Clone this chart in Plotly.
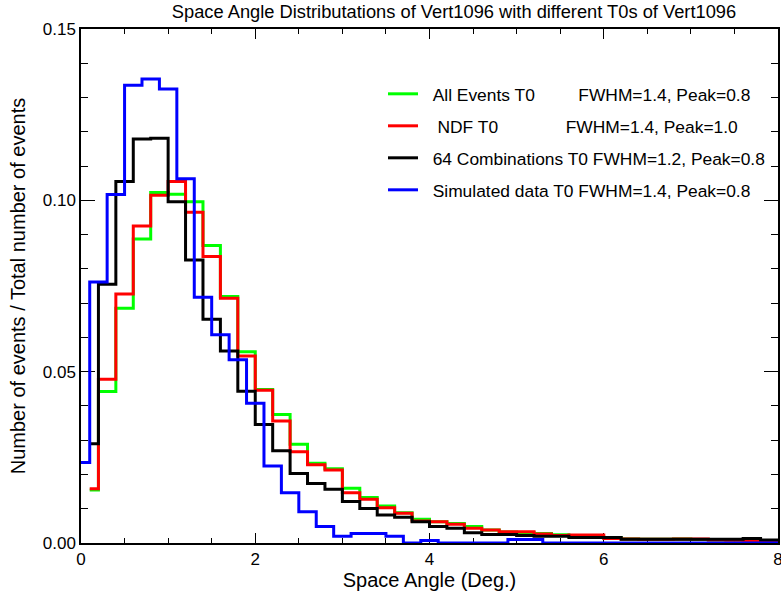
import plotly.graph_objects as go

# Bin centres
x_rgb = [round(0.1 + 0.2 * i, 1) for i in range(41)]   # All events / NDF / 64 comb.
x_blue = [round(0.0 + 0.2 * i, 1) for i in range(41)]  # Simulated

all_events = [0.0155, 0.0442, 0.0685, 0.0887, 0.1023, 0.1018, 0.0996, 0.0868, 0.0719, 0.0558,
              0.0448, 0.0375, 0.0288, 0.0233, 0.0217, 0.0160, 0.0133, 0.0108, 0.0088, 0.0069,
              0.0062, 0.0057, 0.0048, 0.0038, 0.0032, 0.0030, 0.0028, 0.0024, 0.0020, 0.0018,
              0.0016, 0.0012, 0.0011, 0.0011, 0.0012, 0.0010, 0.0009, 0.0008, 0.0007, 0.0006,
              0.0006]
ndf = [0.0158, 0.0478, 0.0727, 0.0925, 0.1015, 0.1055, 0.0965, 0.0836, 0.0714, 0.0546,
       0.0446, 0.0356, 0.0266, 0.0228, 0.0213, 0.0147, 0.0128, 0.0103, 0.0087, 0.0064,
       0.0062, 0.0055, 0.0043, 0.0038, 0.0033, 0.0033, 0.0026, 0.0022, 0.0023, 0.0023,
       0.0013, 0.0012, 0.0011, 0.0011, 0.0012, 0.0012, 0.0009, 0.0008, 0.0007, 0.0007,
       0.0007]
comb64 = [0.0290, 0.0755, 0.1055, 0.1179, 0.1181, 0.0996, 0.0826, 0.0653, 0.0560, 0.0443,
          0.0346, 0.0269, 0.0203, 0.0174, 0.0157, 0.0121, 0.0101, 0.0082, 0.0075, 0.0062,
          0.0048, 0.0043, 0.0030, 0.0025, 0.0025, 0.0022, 0.0020, 0.0020, 0.0016, 0.0016,
          0.0016, 0.0011, 0.0011, 0.0011, 0.0011, 0.0011, 0.0011, 0.0011, 0.0013, 0.0009,
          0.0009]
simulated = [0.0235, 0.0762, 0.1017, 0.1336, 0.1354, 0.1325, 0.1063, 0.0717, 0.0608, 0.0535,
             0.0408, 0.0225, 0.0147, 0.0091, 0.0048, 0.0020, 0.0028, 0.0028, 0.0020, 0.0000,
             0.0007, 0.0000, 0.0000, 0.0000, 0.0000, 0.0010, 0.0010, 0.0000, 0.0000, 0.0000,
             0.0000, 0.0000, 0.0000, 0.0000, 0.0000, 0.0000, 0.0000, 0.0000, 0.0000, 0.0000,
             0.0000]

x_ticks = [0, 2, 4, 6, 8]
y_ticks = [0.0, 0.05, 0.10, 0.15]

NB = "\u00a0"
labels = [
    NB * 2 + "All Events T0" + NB * 9 + "FWHM=1.4, Peak=0.8",
    NB * 3 + "NDF T0" + NB * 14 + "FWHM=1.4, Peak=1.0",
    NB * 2 + "64 Combinations T0 FWHM=1.2, Peak=0.8",
    NB * 2 + "Simulated data T0 FWHM=1.4, Peak=0.8",
]
colors = ["#00ff00", "#ff0000", "#000000", "#0000ff"]
series = [(x_rgb, all_events), (x_rgb, ndf), (x_rgb, comb64), (x_blue, simulated)]
legend_ids = ["legend", "legend2", "legend3", "legend4"]
legend_y_px = [94, 126, 158, 190]

FONT = "Liberation Sans, Arial, sans-serif"
W, H = 781, 594
L, R, T, B = 81, 3, 29, 51
pw, ph = W - L - R, H - T - B

fig = go.Figure()
for (xs, ys), lab, col, lid in zip(series, labels, colors, legend_ids):
    fig.add_trace(go.Scatter(x=xs, y=ys, mode="lines", line=dict(color=col, width=3, shape="hvh"),
                             name=lab, legend=lid, showlegend=True))

legend_common = dict(font=dict(family=FONT, size=17.4, color="black"), bgcolor="rgba(0,0,0,0)",
                     borderwidth=0, xanchor="left", yanchor="middle", itemclick=False)
lay = {}
for lid, ypx in zip(legend_ids, legend_y_px):
    lay[lid] = dict(legend_common, x=(383 - L) / pw, y=(H - B - ypx) / ph)

axis_common = dict(showline=True, linecolor="black", linewidth=1.5, mirror="ticks", ticks="inside",
                   showgrid=False, zeroline=False, tickcolor="black", tickwidth=1,
                   layer="below traces", ticklabeloverflow="allow",
                   tickfont=dict(family=FONT, size=17, color="black"))

fig.update_layout(
    width=W, height=H, margin=dict(l=L, r=R, t=T, b=B, autoexpand=False),
    paper_bgcolor="white", plot_bgcolor="white",
    title=dict(text="Space Angle Distributations of Vert1096 with different T0s of Vert1096",
               font=dict(family=FONT, size=18.3, color="black"), x=(454 - L) / pw, xref="paper",
               xanchor="center", y=1 - 12 / H, yref="container", yanchor="middle"),
    xaxis=dict(axis_common, range=[0, 8], tickmode="array", tickvals=x_ticks,
               ticktext=[str(v) for v in x_ticks], ticklen=10,
               minor=dict(dtick=0.5, ticklen=5, ticks="inside", tickcolor="black", showgrid=False),
               title=dict(text="Space Angle (Deg.)", font=dict(family=FONT, size=20, color="black"),
                          standoff=0)),
    yaxis=dict(axis_common, range=[0, 0.15], tickmode="array", tickvals=y_ticks,
               ticktext=["%.2f" % v for v in y_ticks], ticklen=14,
               minor=dict(dtick=0.01, ticklen=7, ticks="inside", tickcolor="black", showgrid=False),
               title=dict(text="Number of events / Total number of events",
                          font=dict(family=FONT, size=20, color="black"), standoff=12)),
    **lay,
)

fig.write_html("out.html")
